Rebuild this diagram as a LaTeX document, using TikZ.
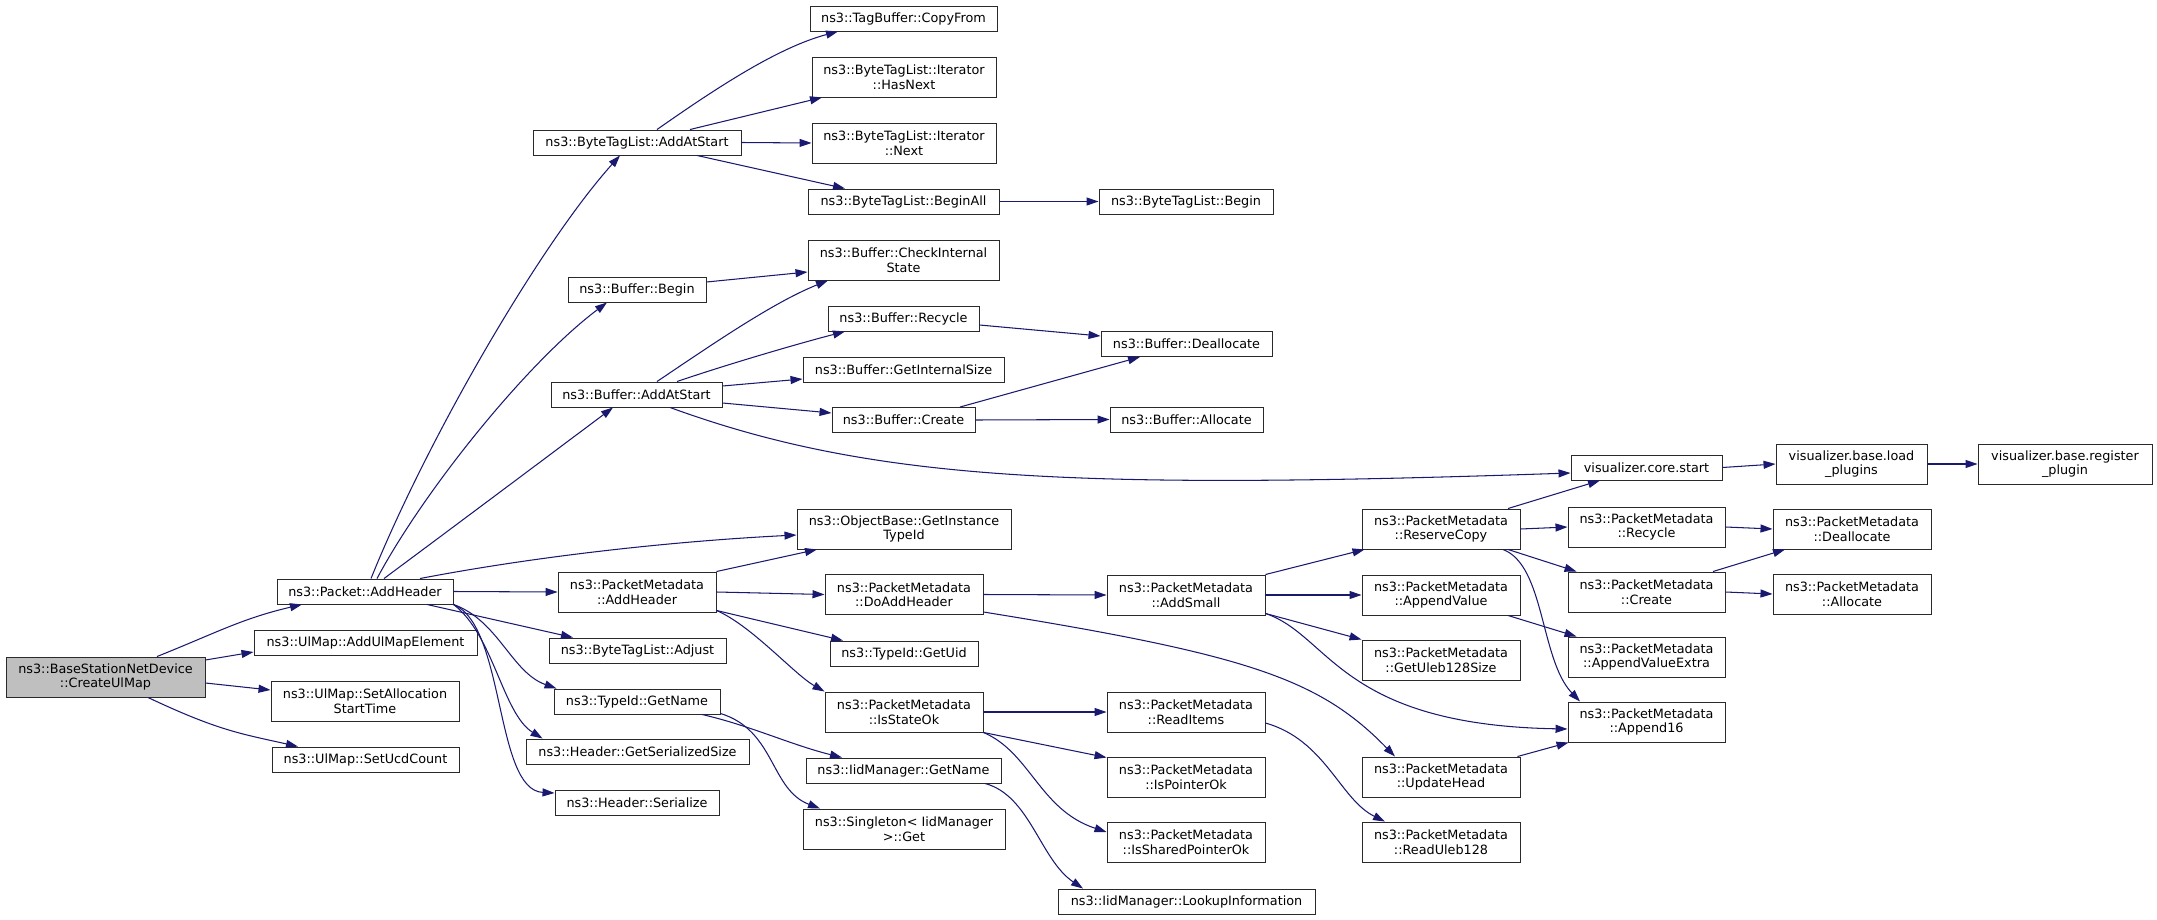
\documentclass[tikz,border=0pt]{standalone}
\usepackage{fontspec}
\setmainfont{DejaVu Sans}
\usetikzlibrary{arrows.meta,calc}
\definecolor{edgecol}{HTML}{191970}
\definecolor{rootfill}{HTML}{BFBFBF}
\definecolor{bordercol}{HTML}{2A2A2A}
\begin{document}
\begin{tikzpicture}[x=1pt,y=-1pt,
 box/.style={draw=bordercol, line width=0.95pt, fill=white, inner sep=0pt, align=center, font=\fontsize{12.8}{14.5}\selectfont},
 one/.style={box, minimum height=25pt},
 two/.style={box, minimum height=40pt},
 edge/.style={draw=edgecol, line width=1.05pt, -{Triangle[length=12pt,width=8pt]}}]
\useasboundingbox (0,0) rectangle (2157,920);
% rank 0
\node[two, fill=rootfill, minimum width=199pt] (n0) at (105.5,677) {ns3::BaseStationNetDevice\\::CreateUlMap};
% rank 1
\node[one, minimum width=176pt] (n1) at (365,591.5) {ns3::Packet::AddHeader};
\node[one, minimum width=223pt] (n2) at (365.5,642.5) {ns3::UlMap::AddUlMapElement};
\node[two, minimum width=188pt] (n3) at (365,701) {ns3::UlMap::SetAllocation\\StartTime};
\node[one, minimum width=187pt] (n4) at (365.5,759.5) {ns3::UlMap::SetUcdCount};
% rank 2
\node[one, minimum width=208pt] (n5) at (637,142.5) {ns3::ByteTagList::AddAtStart};
\node[one, minimum width=138pt] (n6) at (637,289.5) {ns3::Buffer::Begin};
\node[one, minimum width=171pt] (n7) at (636.5,394.5) {ns3::Buffer::AddAtStart};
\node[two, minimum width=158pt] (n8) at (637,592) {ns3::PacketMetadata\\::AddHeader};
\node[one, minimum width=177pt] (n9) at (637.5,650.5) {ns3::ByteTagList::Adjust};
\node[one, minimum width=166pt] (n10) at (637,701.5) {ns3::TypeId::GetName};
\node[one, minimum width=223pt] (n11) at (637.5,751.5) {ns3::Header::GetSerializedSize};
\node[one, minimum width=164pt] (n12) at (637,802.5) {ns3::Header::Serialize};
% rank 3
\node[one, minimum width=187pt] (n13) at (903.5,18.5) {ns3::TagBuffer::CopyFrom};
\node[two, minimum width=184pt] (n14) at (904,77) {ns3::ByteTagList::Iterator\\::HasNext};
\node[two, minimum width=184pt] (n15) at (904,143) {ns3::ByteTagList::Iterator\\::Next};
\node[one, minimum width=191pt] (n16) at (903.5,201.5) {ns3::ByteTagList::BeginAll};
\node[two, minimum width=191pt] (n17) at (903.5,260) {ns3::Buffer::CheckInternal\\State};
\node[one, minimum width=151pt] (n18) at (903.5,318.5) {ns3::Buffer::Recycle};
\node[one, minimum width=201pt] (n19) at (903.5,369.5) {ns3::Buffer::GetInternalSize};
\node[one, minimum width=143pt] (n20) at (903.5,420) {ns3::Buffer::Create};
\node[two, minimum width=214pt] (n21) at (904,529) {ns3::ObjectBase::GetInstance\\TypeId};
\node[two, minimum width=158pt] (n22) at (904,594.5) {ns3::PacketMetadata\\::DoAddHeader};
\node[one, minimum width=148pt] (n23) at (904,653.5) {ns3::TypeId::GetUid};
\node[two, minimum width=158pt] (n24) at (904,712) {ns3::PacketMetadata\\::IsStateOk};
\node[one, minimum width=195pt] (n25) at (903.5,770.5) {ns3::IidManager::GetName};
\node[two, minimum width=202pt] (n26) at (904,829) {ns3::Singleton< IidManager\\ >::Get};
% rank 4
\node[one, minimum width=174pt] (n27) at (1186,201.5) {ns3::ByteTagList::Begin};
\node[one, minimum width=171pt] (n28) at (1186.5,344) {ns3::Buffer::Deallocate};
\node[one, minimum width=153pt] (n29) at (1186.5,419.5) {ns3::Buffer::Allocate};
\node[two, minimum width=158pt] (n30) at (1186,595) {ns3::PacketMetadata\\::AddSmall};
\node[two, minimum width=158pt] (n31) at (1186,712) {ns3::PacketMetadata\\::ReadItems};
\node[two, minimum width=158pt] (n32) at (1186,777) {ns3::PacketMetadata\\::IsPointerOk};
\node[two, minimum width=158pt] (n33) at (1186,842) {ns3::PacketMetadata\\::IsSharedPointerOk};
\node[one, minimum width=257pt] (n34) at (1186.5,901.5) {ns3::IidManager::LookupInformation};
% rank 5
\node[two, minimum width=158pt] (n35) at (1441,529) {ns3::PacketMetadata\\::ReserveCopy};
\node[two, minimum width=158pt] (n36) at (1441,595) {ns3::PacketMetadata\\::AppendValue};
\node[two, minimum width=158pt] (n37) at (1441,660) {ns3::PacketMetadata\\::GetUleb128Size};
\node[two, minimum width=158pt] (n38) at (1441,777) {ns3::PacketMetadata\\::UpdateHead};
\node[two, minimum width=158pt] (n39) at (1441,842) {ns3::PacketMetadata\\::ReadUleb128};
% rank 6
\node[one, minimum width=151pt] (n40) at (1646.5,467.5) {visualizer.core.start};
\node[two, minimum width=157pt] (n41) at (1646.5,527) {ns3::PacketMetadata\\::Recycle};
\node[two, minimum width=157pt] (n42) at (1646.5,592) {ns3::PacketMetadata\\::Create};
\node[two, minimum width=157pt] (n43) at (1646.5,657) {ns3::PacketMetadata\\::AppendValueExtra};
\node[two, minimum width=157pt] (n44) at (1646.5,722) {ns3::PacketMetadata\\::Append16};
% rank 7
\node[two, minimum width=151pt] (n45) at (1851.5,464) {visualizer.base.load\\\_plugins};
\node[two, minimum width=158pt] (n46) at (1852,529) {ns3::PacketMetadata\\::Deallocate};
\node[two, minimum width=158pt] (n47) at (1852,594) {ns3::PacketMetadata\\::Allocate};
% rank 8
\node[two, minimum width=174pt] (n48) at (2065,464) {visualizer.base.register\\\_plugin};

% edges from n0
\draw[edge] ($(n0.north)+(51.5,0)$) .. controls +(60,-24) and +(-60,14) .. ($(n1.south)+(-63,0)$);
\draw[edge] ($(n0.east)+(0,-17)$) -- ($(n2.west)+(0,9.5)$);
\draw[edge] ($(n0.east)+(0,6)$) -- ($(n3.west)+(0,-11)$);
\draw[edge] ($(n0.south)+(42.5,0)$) .. controls +(70,33) and +(-58,-13) .. ($(n4.north)+(-67.5,0)$);
% edges from n1
\draw[edge] (n1.east) -- (n8.west);
\draw[edge] ($(n1.south)+(62,0)$) -- ($(n9.north)+(-64.5,0)$);
\draw[edge] (n1.south east) .. controls +(45,16) and +(-45,-16) .. ($(n10.north west)+(3,0)$);
\draw[edge] (n1.south east) .. controls +(40,30) and +(-40,-25) .. ($(n11.north west)+(17,0)$);
\draw[edge] (n1.south east) .. controls +(52,21) and +(-60,-3) .. ($(n12.west)+(0,-9.5)$);
\draw[edge] ($(n1.north)+(55,0)$) .. controls +(120,-23) and +(-120,6) .. ($(n21.west)+(0,6)$);
\draw[edge] ($(n1.north)+(6,0)$) .. controls +(56,-139) and +(-80,89) .. ($(n5.south)+(-17,0)$);
\draw[edge] ($(n1.north)+(12,0)$) .. controls +(47,-88) and +(-80,60) .. ($(n6.south)+(-30,0)$);
\draw[edge] ($(n1.north)+(19,0)$) .. controls +(70,-52) and +(-60,45) .. ($(n7.south)+(-23.5,0)$);
% edges from n5
\draw[edge] ($(n5.north)+(20,0)$) .. controls +(60,-42) and +(-60,16) .. ($(n13.south)+(-65.5,0)$);
\draw[edge] ($(n5.north)+(53,0)$) -- ($(n14.south)+(-82,0)$);
\draw[edge] (n5.east) -- (n15.west);
\draw[edge] ($(n5.south)+(60,0)$) -- ($(n16.north)+(-58.5,0)$);
\draw[edge] (n16.east) -- (n27.west);
% n6
\draw[edge] ($(n6.east)+(0,-7.5)$) -- ($(n17.west)+(0,12)$);
% n7
\draw[edge] ($(n7.north)+(20.5,0)$) .. controls +(55,-37) and +(-55,22) .. ($(n17.south)+(-75.5,0)$);
\draw[edge] ($(n7.north)+(40.5,0)$) .. controls +(50,-17) and +(-50,13) .. ($(n18.south)+(-58.5,0)$);
\draw[edge] ($(n7.east)+(0,-8.5)$) -- ($(n19.west)+(0,9.5)$);
\draw[edge] ($(n7.east)+(0,8.5)$) -- ($(n20.west)+(0,-7)$);
\draw[edge] ($(n7.south)+(33.5,0)$) .. controls +(200,73) and +(-500,17) .. ($(n40.west)+(0,5.5)$);
% n18, n20
\draw[edge] ($(n18.east)+(0,6.5)$) -- ($(n28.west)+(0,-8)$);
\draw[edge] ($(n20.north)+(56.5,0)$) -- ($(n28.south)+(-46.5,0)$);
\draw[edge] (n20.east) -- (n29.west);
% n8
\draw[edge] (n8.north east) -- ($(n21.south)+(-87,0)$);
\draw[edge] (n8.east) -- (n22.west);
\draw[edge] ($(n8.south east)+(0,-2)$) -- ($(n23.north)+(-61,0)$);
\draw[edge] ($(n8.south east)+(0,-2)$) .. controls +(35,15) and +(-30,-17) .. (n24.north west);
% n22
\draw[edge] (n22.east) -- (n30.west);
\draw[edge] ($(n22.east)+(0,17.5)$) .. controls +(267,43) and +(-75,-77) .. ($(n38.north)+(-46,0)$);
% n24
\draw[edge] (n24.east) -- (n31.west);
\draw[edge] (n24.south east) -- ($(n32.north west)+(0,1)$);
\draw[edge] (n24.south east) .. controls +(47,20) and +(-67,-22) .. ($(n33.west)+(0,-10)$);
% n25
\draw[edge] ($(n25.south)+(81.5,0)$) .. controls +(45,12) and +(-43,-29) .. ($(n34.north)+(-103.5,0)$);
% n10
\draw[edge] ($(n10.south)+(65,0)$) .. controls +(48,11) and +(-52,-13) .. ($(n25.north)+(-61.5,0)$);
\draw[edge] ($(n10.south east)+(0,-1)$) .. controls +(55,17) and +(-50,-19) .. ($(n26.north)+(-84,0)$);
% n30
\draw[edge] (n30.north east) -- ($(n35.south west)+(3,0)$);
\draw[edge] (n30.east) -- (n36.west);
\draw[edge] ($(n30.south east)+(0,-2)$) -- (n37.north west);
\draw[edge] ($(n30.south east)+(0,-2)$) .. controls +(65,22) and +(-228,-4) .. ($(n44.west)+(0,7)$);
% n31
\draw[edge] ($(n31.east)+(0,11)$) .. controls +(60,17) and +(-45,-22) .. ($(n39.north)+(-56,0)$);
% n35
\draw[edge] ($(n35.north)+(67,0)$) -- ($(n40.south)+(-46.5,0)$);
\draw[edge] (n35.east) -- (n41.west);
\draw[edge] ($(n35.south)+(67,0)$) -- ($(n42.north west)+(9,0)$);
\draw[edge] ($(n35.south)+(62,0)$) .. controls +(42,16) and +(-40,-42) .. ($(n44.north)+(-66.5,0)$);
% n36, n38
\draw[edge] ($(n36.south)+(67,0)$) -- ($(n43.north west)+(9,0)$);
\draw[edge] ($(n38.north east)+(-3,0)$) -- ($(n44.south west)+(1,0)$);
% n41, n42
\draw[edge] (n41.east) -- (n46.west);
\draw[edge] ($(n42.north)+(66.5,0)$) -- ($(n46.south)+(-67,0)$);
\draw[edge] (n42.east) -- (n47.west);
% visualizer
\draw[edge] (n40.east) -- (n45.west);
\draw[edge] (n45.east) -- (n48.west);
\end{tikzpicture}
\end{document}
